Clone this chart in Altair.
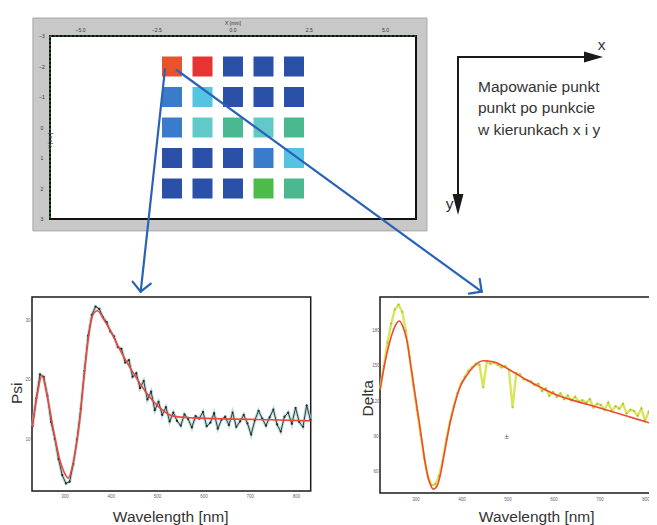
import altair as alt
import pandas as pd

# ---------------- values ----------------
CELL_X = [-2, -1, 0, 1, 2]
CELL_Y = [-2, -1, 0, 1, 2]
# colour level of each cell, rows from y=-2 (top) down to y=2
CELL_LEVEL = [
    [0.85, 1.00, 0.00, 0.00, 0.00],
    [0.20, 0.35, 0.00, 0.00, 0.00],
    [0.20, 0.45, 0.55, 0.45, 0.55],
    [0.00, 0.00, 0.00, 0.20, 0.35],
    [0.00, 0.00, 0.00, 0.65, 0.55],
]
LEVEL_STOPS = [0.0, 0.2, 0.35, 0.45, 0.55, 0.65, 0.85, 1.0]
LEVEL_COLORS = ["#2b50a8", "#3a7ccb", "#55c3e2", "#62c9c9", "#4bb98f",
                "#4dbb4a", "#e9532b", "#e83333"]

HEAT_XTICKS = [-5.0, -2.5, 0.0, 2.5, 5.0]
HEAT_YTICKS = [-3, -2, -1, 0, 1, 2, 3]

PSI_FIT_WL = [229, 240, 250, 262, 275, 289, 298, 307, 316, 324, 332, 340, 350,
              360, 370, 384, 397, 419, 447, 476, 505, 534, 577, 663, 743, 830]
PSI_FIT = [12.2, 17.6, 20.8, 17.2, 11.7, 6.6, 4.6, 3.6, 5.6, 8.9, 13.4, 19.8, 26.8,
           31.0, 31.7, 30.2, 28.5, 25.1, 21.3, 17.9, 15.4, 14.0, 13.7, 13.5, 13.4, 13.2]

PSI_WL = [230, 238, 246, 254, 262, 270, 278, 286, 294, 302,
          310, 318, 326, 334, 342, 350, 358, 366, 374, 382,
          390, 398, 406, 414, 422, 430, 438, 446, 454, 462,
          470, 478, 486, 494, 502, 510, 518, 526, 534, 542,
          550, 558, 566, 574, 582, 590, 598, 606, 614, 622,
          630, 638, 646, 654, 662, 670, 678, 686, 694, 702,
          710, 718, 726, 734, 742, 750, 758, 766, 774, 782,
          790, 798, 806, 814, 822, 830]
PSI_MEAS = [12.3, 17.0, 21.0, 20.6, 17.4, 13.0, 10.2, 6.8, 4.1, 2.7,
            3.0, 6.0, 10.1, 15.2, 21.6, 27.5, 31.0, 32.4, 32.0, 30.6,
            29.8, 28.2, 27.4, 25.6, 25.3, 23.0, 23.4, 20.6, 21.2, 18.7,
            19.9, 16.8, 18.1, 15.0, 16.4, 14.2, 15.5, 13.1, 14.6, 13.2,
            12.4, 14.3, 13.5, 12.1, 14.0, 13.6, 14.7, 12.3, 12.9, 14.5,
            11.9, 13.4, 13.9, 12.5, 14.6, 12.2, 13.1, 14.2, 12.8, 10.9,
            13.3, 14.9, 13.6, 12.4, 13.8, 15.1, 12.6, 11.4, 13.9, 14.6,
            12.7, 15.4, 13.0, 12.2, 15.8, 13.4]

DELTA_FIT_WL = [222, 232, 244, 254, 264, 272, 280, 290, 302, 311, 320, 329, 338, 345,
                352, 362, 374, 385, 396, 410, 425, 446, 468, 504, 541, 606, 678, 751,
                823, 843]
DELTA_FIT = [130.3, 152.0, 172.1, 183.5, 188.2, 183.0, 172.1, 147.0, 115.6, 92.0, 67.9,
             52.0, 45.8, 48.0, 56.3, 77.0, 101.8, 119.0, 132.5, 142.0, 149.5, 154.6,
             153.7, 146.7, 138.2, 125.5, 117.0, 108.6, 100.1, 97.8]

DELTA_WL = [222, 230, 238, 246, 254, 262, 270, 278, 286, 294,
            302, 310, 318, 326, 334, 342, 350, 358, 366, 374,
            382, 390, 398, 406, 414, 422, 430, 438, 446, 454,
            462, 470, 478, 486, 494, 502, 510, 518, 526, 534,
            542, 550, 558, 566, 574, 582, 590, 598, 606, 614,
            622, 630, 638, 646, 654, 662, 670, 678, 686, 694,
            702, 710, 718, 726, 734, 742, 750, 758, 766, 774,
            782, 790, 798, 806, 814, 822, 830, 838]
DELTA_MEAS = [131, 150, 170, 186, 198, 202, 196, 180, 158, 134,
              113, 92, 72, 56, 49, 50, 57, 70, 88, 103,
              116, 127, 135, 141, 146, 149, 152, 151, 132, 154,
              152, 153, 151, 149, 150, 147, 115, 144, 143, 139,
              138, 137, 134, 135, 129, 131, 125, 128, 124, 127,
              122, 125, 121, 124, 120, 121, 119, 122, 115, 118,
              117, 113, 119, 112, 116, 114, 118, 110, 113, 112,
              108, 114, 104, 111, 107, 103, 109, 101]

WL_TICKS = [300, 400, 500, 600, 700, 800]
PSI_YTICKS = [10, 20, 30]
DELTA_YTICKS = [60, 90, 120, 150, 180]

TEXT_LINES = ["Mapowanie punkt", "punkt po punkcie", "w kierunkach x i y"]

# ---------------- layout ----------------
W, H = 641, 517
FONT = "Liberation Sans"
HEAT = dict(xd=[-6, 6], xr=[42, 408], yd=[-3, 3], yr=[28, 211])
PSI = dict(xd=[228.7, 830.7], xr=[24, 302.7], yd=[1.43, 34.0], yr=[483, 289])
DEL = dict(xd=[221.7, 843.0], xr=[372, 657.7], yd=[42.5, 208.6], yr=[485, 289])
ONE = pd.DataFrame({"k": [0]})


def sc(dom, rng):
    return alt.Scale(domain=dom, range=rng, nice=False, zero=False)


def xf(p, field):
    return alt.X(field, type="quantitative", scale=sc(p["xd"], p["xr"]), axis=None)


def yf(p, field):
    return alt.Y(field, type="quantitative", scale=sc(p["yd"], p["yr"]), axis=None)


def xdat(p, v):
    return alt.X(datum=v, type="quantitative", scale=sc(p["xd"], p["xr"]), axis=None)


def ydat(p, v):
    return alt.Y(datum=v, type="quantitative", scale=sc(p["yd"], p["yr"]), axis=None)


def box(p, x0, x1, y0, y1, **mk):
    df = pd.DataFrame({"x0": [x0], "x1": [x1], "y0": [y0], "y1": [y1]})
    return alt.Chart(df).mark_rect(**mk).encode(
        x=xf(p, "x0"), x2=alt.X2(field="x1"), y=yf(p, "y0"), y2=alt.Y2(field="y1"))


def dseg(p, x0, y0, x1, y1, **mk):
    df = pd.DataFrame({"x0": [x0], "x1": [x1], "y0": [y0], "y1": [y1]})
    return alt.Chart(df).mark_rule(**mk).encode(
        x=xf(p, "x0"), x2=alt.X2(field="x1"), y=yf(p, "y0"), y2=alt.Y2(field="y1"))


def pseg(x0, y0, x1, y1, color, width):
    return alt.Chart(ONE).mark_rule(color=color, strokeWidth=width, strokeCap="round").encode(
        x=alt.value(x0), y=alt.value(y0), x2=alt.value(x1), y2=alt.value(y1))


def ptext(txt, x, y, size=15.5, angle=0, align="center", color="#333333"):
    mk = dict(text=txt, font=FONT, fontSize=size, align=align, baseline="middle", color=color)
    if angle:
        mk["angle"] = angle
    return alt.Chart(ONE).mark_text(**mk).encode(x=alt.value(x), y=alt.value(y))


layers = []

# ---- top map panel ----
layers.append(box(HEAT, -6.56, 6.36, -3.59, 3.39, fill="#c8c8c8", stroke="#a8a8a8", strokeWidth=1))
layers.append(box(HEAT, -6, 6, -3, 3, fill="white", stroke="#111111", strokeWidth=2))
layers.append(dseg(HEAT, -6, -3, 6, -3, color="#2e7d32", strokeWidth=1.2, strokeDash=[2, 2]))
layers.append(dseg(HEAT, -6, -3, -6, 3, color="#2e7d32", strokeWidth=1.2, strokeDash=[2, 2]))

layers.append(alt.Chart(pd.DataFrame({"v": HEAT_XTICKS})).mark_text(
    font=FONT, fontSize=5, color="#333333", dy=-6, baseline="middle").encode(
    x=xf(HEAT, "v"), y=ydat(HEAT, -3), text=alt.Text("v:Q", format=".1f")))
layers.append(alt.Chart(pd.DataFrame({"v": HEAT_YTICKS})).mark_text(
    font=FONT, fontSize=5, color="#333333", dx=-8, baseline="middle").encode(
    x=xdat(HEAT, -6), y=yf(HEAT, "v"), text=alt.Text("v:Q", format="d")))
layers.append(alt.Chart(ONE).mark_text(
    text="X [mm]", font=FONT, fontSize=5, color="#333333", dy=-13, baseline="middle").encode(
    x=xdat(HEAT, 0), y=ydat(HEAT, -3)))
layers.append(alt.Chart(ONE).mark_text(
    text="Y [mm]", font=FONT, fontSize=5, color="#333333", dx=-13, angle=270,
    baseline="middle").encode(x=xdat(HEAT, -6), y=ydat(HEAT, 0)))

cells = pd.DataFrame([
    {"cx": CELL_X[c], "cy": CELL_Y[r], "lvl": CELL_LEVEL[r][c]}
    for r in range(len(CELL_Y)) for c in range(len(CELL_X))
])
layers.append(alt.Chart(cells).mark_square(size=400, opacity=1, filled=True).encode(
    x=xf(HEAT, "cx"), y=yf(HEAT, "cy"),
    color=alt.Color("lvl:Q", scale=alt.Scale(domain=LEVEL_STOPS, range=LEVEL_COLORS),
                    legend=None)))

# ---- axis symbol and description ----
layers.append(pseg(450, 49, 450, 190, "#1a1a1a", 2))
layers.append(pseg(450, 49, 580, 49, "#1a1a1a", 2))
layers.append(alt.Chart(ONE).mark_point(
    shape="M-0.52,-1L0.52,-1L0,1Z", size=441, filled=True, opacity=1, color="#1a1a1a").encode(
    x=alt.value(450), y=alt.value(196.5)))
layers.append(alt.Chart(ONE).mark_point(
    shape="M-1,-0.58L1,0L-1,0.58Z", size=361, filled=True, opacity=1, color="#1a1a1a").encode(
    x=alt.value(585.5), y=alt.value(49)))
layers.append(ptext("x", 593.7, 37))
layers.append(ptext("y", 441.5, 196))
for i, line in enumerate(TEXT_LINES):
    layers.append(ptext(line, 470, 78.7 + 21.7 * i, align="left"))

# ---- Psi panel ----
psi_meas = pd.DataFrame({"wl": PSI_WL, "v": PSI_MEAS})
psi_fit = pd.DataFrame({"wl": PSI_FIT_WL, "v": PSI_FIT})
layers.append(box(PSI, PSI["xd"][0], PSI["xd"][1], PSI["yd"][0], PSI["yd"][1],
                  fill="white", stroke="#1a1a1a", strokeWidth=1.5))
layers.append(alt.Chart(psi_meas).mark_line(color="#a6d6d6", strokeWidth=3.2, opacity=0.8).encode(
    x=xf(PSI, "wl"), y=yf(PSI, "v")))
layers.append(alt.Chart(psi_meas).mark_line(color="#3a3a3a", strokeWidth=1).encode(
    x=xf(PSI, "wl"), y=yf(PSI, "v")))
layers.append(alt.Chart(psi_meas).mark_point(color="#1e1e1e", size=5, filled=True, opacity=0.9).encode(
    x=xf(PSI, "wl"), y=yf(PSI, "v")))
layers.append(alt.Chart(psi_fit).mark_line(color="#f0463c", strokeWidth=1.6, interpolate="monotone").encode(
    x=xf(PSI, "wl"), y=yf(PSI, "v")))
layers.append(alt.Chart(pd.DataFrame({"v": WL_TICKS})).mark_text(
    font=FONT, fontSize=4.5, color="#6e5878", dy=6, baseline="middle").encode(
    x=xf(PSI, "v"), y=ydat(PSI, PSI["yd"][0]), text=alt.Text("v:Q", format="d")))
layers.append(alt.Chart(pd.DataFrame({"v": PSI_YTICKS})).mark_text(
    font=FONT, fontSize=4.5, color="#6e5878", dx=-4, baseline="middle").encode(
    x=xdat(PSI, PSI["xd"][0]), y=yf(PSI, "v"), text=alt.Text("v:Q", format="d")))
layers.append(ptext("Psi", 8.7, 385.3, angle=270))
layers.append(ptext("Wavelength [nm]", 162.7, 508.5))

# ---- Delta panel ----
del_meas = pd.DataFrame({"wl": DELTA_WL, "v": DELTA_MEAS})
del_fit = pd.DataFrame({"wl": DELTA_FIT_WL, "v": DELTA_FIT})
layers.append(box(DEL, DEL["xd"][0], DEL["xd"][1], DEL["yd"][0], DEL["yd"][1],
                  fill="white", stroke="#1a1a1a", strokeWidth=1.5))
layers.append(alt.Chart(del_meas).mark_line(color="#d9e55a", strokeWidth=2.4).encode(
    x=xf(DEL, "wl"), y=yf(DEL, "v")))
layers.append(alt.Chart(del_meas).mark_point(color="#9ab030", size=5, filled=True, opacity=0.7).encode(
    x=xf(DEL, "wl"), y=yf(DEL, "v")))
layers.append(alt.Chart(del_fit).mark_line(color="#f04a32", strokeWidth=1.6, interpolate="monotone").encode(
    x=xf(DEL, "wl"), y=yf(DEL, "v")))
layers.append(alt.Chart(pd.DataFrame({"v": WL_TICKS})).mark_text(
    font=FONT, fontSize=4.5, color="#6e5878", dy=7, baseline="middle").encode(
    x=xf(DEL, "v"), y=ydat(DEL, DEL["yd"][0]), text=alt.Text("v:Q", format="d")))
layers.append(alt.Chart(pd.DataFrame({"v": DELTA_YTICKS})).mark_text(
    font=FONT, fontSize=4.5, color="#6e5878", dx=-4, baseline="middle").encode(
    x=xdat(DEL, DEL["xd"][0]), y=yf(DEL, "v"), text=alt.Text("v:Q", format="d")))
layers.append(alt.Chart(ONE).mark_text(
    text="±", font=FONT, fontSize=8, color="#4a5a80", baseline="middle").encode(
    x=xdat(DEL, 497), y=ydat(DEL, 90)))
layers.append(ptext("Delta", 360.3, 390.3, angle=270))
layers.append(ptext("Wavelength [nm]", 528.7, 508.5))

# ---- blue arrows from the first map point ----
BLUE = "#2a62b8"
layers.append(pseg(157, 61, 132.7, 283.7, BLUE, 2.2))
layers.append(pseg(132.7, 283.7, 124.6, 273.6, BLUE, 2.2))
layers.append(pseg(132.7, 283.7, 142.8, 275.6, BLUE, 2.2))
layers.append(pseg(168.7, 62, 473.7, 283.7, BLUE, 2.2))
layers.append(pseg(473.7, 283.7, 460.9, 285.7, BLUE, 2.2))
layers.append(pseg(473.7, 283.7, 471.7, 270.9, BLUE, 2.2))

chart = alt.layer(*layers).resolve_scale(
    x="independent", y="independent", color="independent"
).properties(
    width=W, height=H, autosize=alt.AutoSizeParams(type="none"), padding=0
).configure_view(strokeWidth=0)

chart.save("out.html", embed_options={"renderer": "svg", "actions": False})
